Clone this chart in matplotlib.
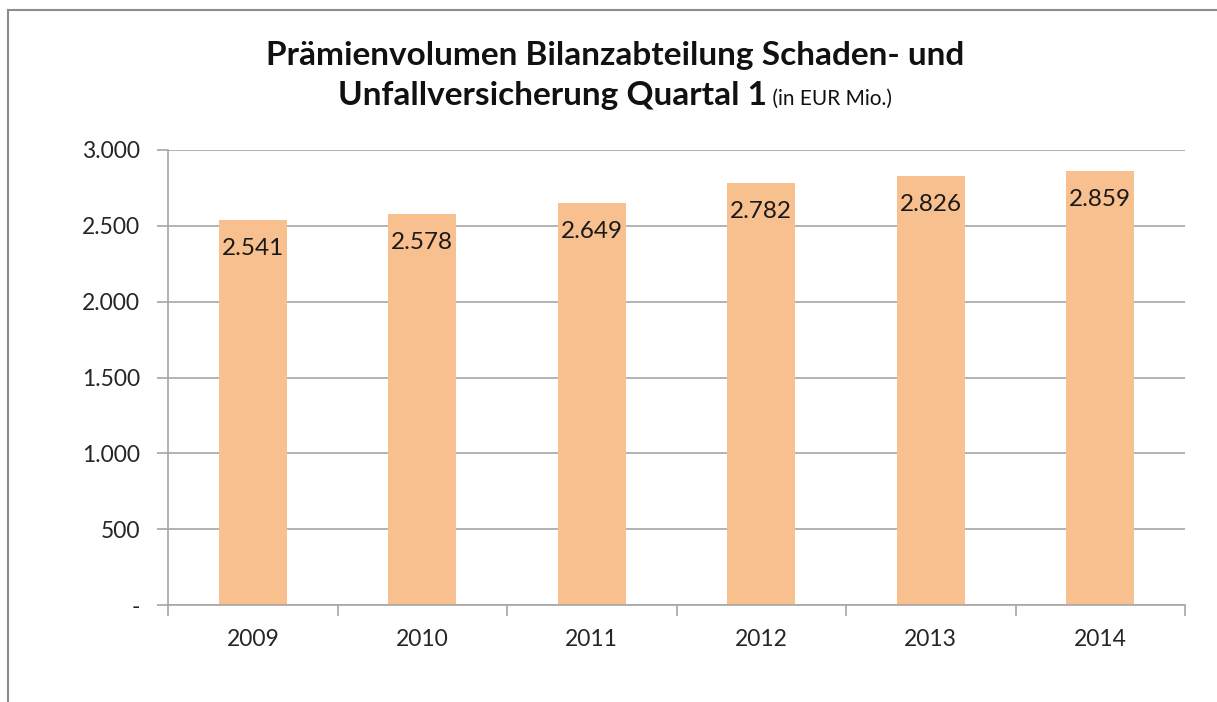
import matplotlib
matplotlib.use("Agg")
import matplotlib.pyplot as plt
from matplotlib.ticker import FuncFormatter, FixedLocator
from matplotlib.lines import Line2D

# Daten
jahre = ['2009', '2010', '2011', '2012', '2013', '2014']
werte = [2541, 2578, 2649, 2782, 2826, 2859]

plt.rcParams['font.family'] = ['Lato', 'DejaVu Sans']

W, H = 1217, 702
fig = plt.figure(figsize=(W / 100, H / 100), dpi=100)

# Rahmen (links und oben)
fig.add_artist(Line2D([8 / W, 8 / W], [0, 1 - 10 / H], transform=fig.transFigure, color='#8c8c8c', lw=1.5))
fig.add_artist(Line2D([8 / W, 1], [1 - 10 / H, 1 - 10 / H], transform=fig.transFigure, color='#8c8c8c', lw=1.5))

ax = fig.add_axes([168 / W, 1 - 605 / H, (1185 - 168) / W, (605 - 150) / H])

x = range(len(jahre))
bars = ax.bar(x, werte, width=0.4, color='#F9C08F', zorder=2)

for xi, v in zip(x, werte):
    txt = f'{v:,}'.replace(',', '.')
    ax.annotate(txt, (xi, v), xytext=(0, -20.5), textcoords='offset points',
                ha='center', va='center', fontsize=17.5, color='#1a1a1a', zorder=3)

ax.set_xlim(-0.5, len(jahre) - 0.5)
ax.set_ylim(0, 3000)
ax.yaxis.set_major_locator(FixedLocator(range(0, 3001, 500)))
ax.yaxis.set_major_formatter(FuncFormatter(lambda v, p: '-' if v == 0 else f'{int(v):,}'.replace(',', '.')))
ax.grid(axis='y', color='#a6a6a6', lw=1.2, zorder=0)
ax.set_xticks(list(x))
ax.set_xticklabels(jahre)
ax.xaxis.set_minor_locator(FixedLocator([i - 0.5 for i in range(len(jahre) + 1)]))
ax.tick_params(axis='x', which='major', length=0, pad=17, labelsize=16.5, labelcolor='#262626')
ax.tick_params(axis='x', which='minor', length=8, color='#a6a6a6', width=1.2)
ax.tick_params(axis='y', length=8, color='#a6a6a6', width=1.2, pad=12, labelsize=16.5, labelcolor='#262626')
for s in ['top', 'right']:
    ax.spines[s].set_visible(False)
for s in ['left', 'bottom']:
    ax.spines[s].set_color('#a6a6a6')
    ax.spines[s].set_linewidth(1.2)

# Titel
fig.text(615 / W, 1 - 55 / H, 'Prämienvolumen Bilanzabteilung Schaden- und',
         ha='center', va='center', fontsize=24, fontweight='bold', color='#111111')
t1 = fig.text(0, 1 - 105 / H, 'Unfallversicherung Quartal 1',
              ha='left', va='baseline', fontsize=24, fontweight='bold', color='#111111')
t2 = fig.text(0, 1 - 105 / H, ' (in EUR Mio.)',
              ha='left', va='baseline', fontsize=15, color='#111111')
fig.canvas.draw()
r = fig.canvas.get_renderer()
w1 = t1.get_window_extent(r).width
w2 = t2.get_window_extent(r).width
start = 615 - (w1 + w2) / 2
t1.set_x(start / W)
t2.set_x((start + w1) / W)

fig.savefig('out.png', dpi=100)
